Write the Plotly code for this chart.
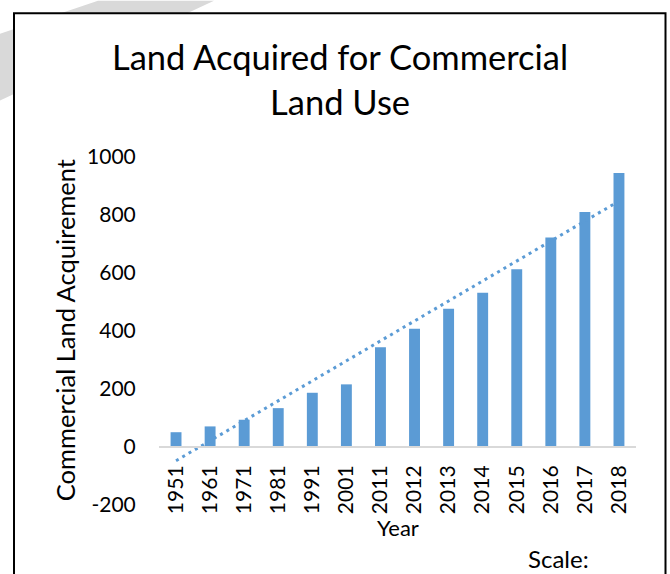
import numpy as np
import plotly.graph_objects as go

# ---- data ----
years = ["1951", "1961", "1971", "1981", "1991", "2001", "2011",
         "2012", "2013", "2014", "2015", "2016", "2017", "2018"]
land = [51, 71, 94, 134, 187, 216, 344, 408, 477, 532, 613, 722, 810, 945]
y_ticks = [-200, 0, 200, 400, 600, 800, 1000]
y_tick_labels = ["-200", "0", "200", "400", "600", "800", "1000"]

title_text = "Land Acquired for Commercial<br>Land Use"
y_title = "Commercial Land Acquirement"
x_title = "Year"

# linear trendline (least squares on category index, like Excel)
idx = np.arange(1, len(years) + 1)
slope, intercept = np.polyfit(idx, land, 1)
trend = slope * idx + intercept

W, H = 670, 574
L, R, T, B = 159, 34, 156.5, 69
PW, PH = W - L - R, H - T - B


def px(xp):
    return (xp - L) / PW


def py(yp):
    return (H - B - yp) / PH


BLUE = "#5B9BD5"
FONT = "Lato"

fig = go.Figure()
fig.add_trace(go.Bar(x=years, y=land, marker=dict(color=BLUE, line=dict(width=0)),
                     showlegend=False))
fig.add_trace(go.Scatter(x=years, y=trend, mode="lines",
                         line=dict(color=BLUE, width=3, dash="3px,4.3px"),
                         showlegend=False))

ymin, ymax = y_ticks[0], y_ticks[-1]

fig.update_layout(
    width=W, height=H, autosize=False,
    margin=dict(l=L, r=R, t=T, b=B, pad=0),
    paper_bgcolor="white", plot_bgcolor="rgba(0,0,0,0)",
    font=dict(family=FONT, color="black"),
    bargap=0.68,
    showlegend=False,
    xaxis=dict(type="category", anchor="free",
               position=(0 - ymin) / (ymax - ymin),
               showline=True, linecolor="#D9D9D9", linewidth=2,
               showgrid=False, zeroline=False,
               ticks="outside", ticklen=9, tickcolor="rgba(0,0,0,0)",
               tickangle=-90, tickfont=dict(size=21, family=FONT, color="black")),
    yaxis=dict(range=[ymin, ymax], tickvals=y_ticks, ticktext=y_tick_labels,
               showline=False, showgrid=False, zeroline=False,
               ticks="outside", ticklen=18, tickcolor="rgba(0,0,0,0)",
               tickfont=dict(size=21, family=FONT, color="black")),
)

fig.add_annotation(text=title_text, xref="paper", yref="paper",
                   x=px(340), y=py(78), xanchor="center", yanchor="middle",
                   showarrow=False, font=dict(size=34.5, family=FONT, color="black"))
fig.add_annotation(text=y_title, xref="paper", yref="paper",
                   x=px(65), y=py(330), xanchor="center", yanchor="middle",
                   textangle=-90, showarrow=False,
                   font=dict(size=25.5, family=FONT, color="black"))
fig.add_annotation(text=x_title, xref="paper", yref="paper",
                   x=px(397.5), y=py(528), xanchor="center", yanchor="middle",
                   showarrow=False, font=dict(size=22, family=FONT, color="black"))
fig.add_annotation(text="Scale:", xref="paper", yref="paper",
                   x=px(527), y=py(574), xanchor="left", yanchor="bottom",
                   borderpad=0, showarrow=False,
                   font=dict(size=24, family=FONT, color="black"))

# watermark band (outside chart box) and chart box
wm = [(98, 0), (214, 0), (0, 100), (0, 33)]
path = "M " + " L ".join(f"{px(a)},{py(b)}" for a, b in wm) + " Z"
fig.add_shape(type="path", path=path, xref="paper", yref="paper",
              fillcolor="#D9D9D9", line=dict(width=0), layer="below")
fig.add_shape(type="rect", xref="paper", yref="paper",
              x0=px(14), x1=px(665.5), y0=py(12.5), y1=py(590),
              fillcolor="white", line=dict(color="black", width=2), layer="below")

fig.write_html("out.html")
